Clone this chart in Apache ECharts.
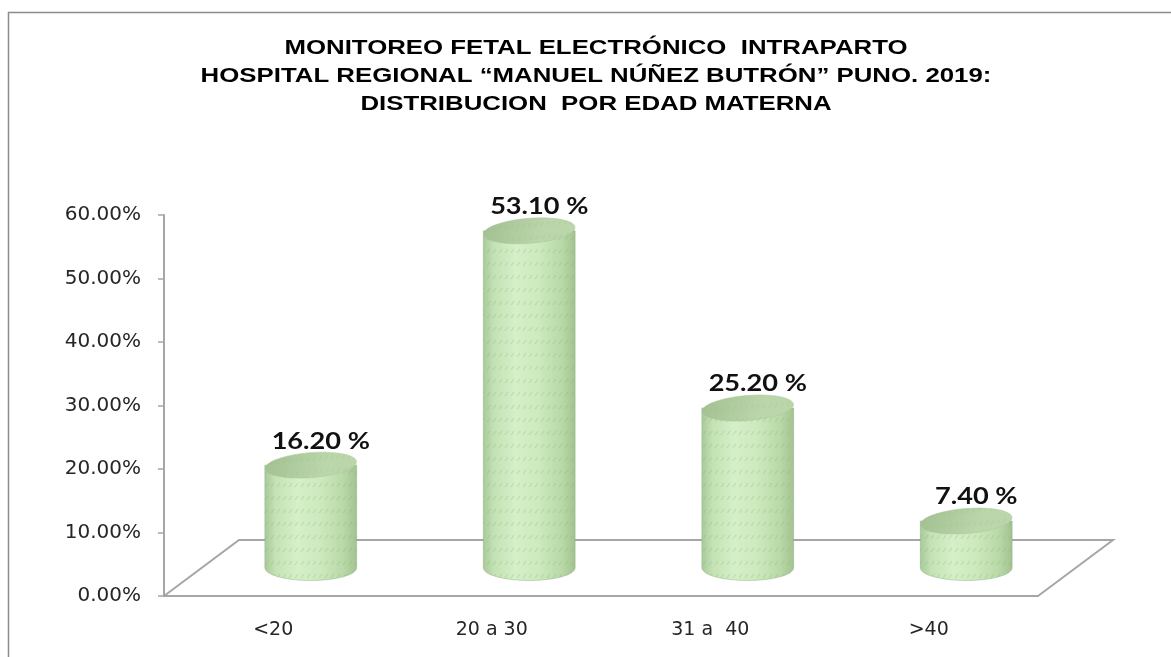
<!DOCTYPE html>
<html><head><meta charset="utf-8">
<script src="https://cdn.jsdelivr.net/npm/echarts@6/dist/echarts.min.js"></script>
<style>html,body{margin:0;padding:0;background:#fff}#c{width:1171px;height:657px}</style>
</head><body><div id="c"></div>
<script>
const categories = ['<20', '20 a 30', '31 a  40', '>40'];
const values = [16.2, 53.1, 25.2, 7.4];
const yTicks = [0, 10, 20, 30, 40, 50, 60];
const titleLines = ['MONITOREO FETAL ELECTRÓNICO  INTRAPARTO', 'HOSPITAL REGIONAL “MANUEL NÚÑEZ BUTRÓN” PUNO. 2019:', 'DISTRIBUCION  POR EDAD MATERNA'];

const DX = 75, DY = 56;
const chart = echarts.init(document.getElementById('c'), null, {renderer: 'canvas'});

// texture pattern
const pc = document.createElement('canvas');
pc.width = 6; pc.height = 13;
const g = pc.getContext('2d');
g.strokeStyle = 'rgba(125,180,105,0.35)';
g.lineWidth = 1.1;
g.beginPath(); g.moveTo(1, 6); g.lineTo(4, 2); g.stroke();

const gray = '#a6a6a6';
const axisFont = '"DejaVu Sans", Verdana, sans-serif';

chart.setOption({
  animation: false,
  graphic: [
    {type: 'polyline', shape: {points: [[8.5, 700], [8.5, 12.5], [1200, 12.5]]}, style: {stroke: '#8c8c8c', lineWidth: 1.5, fill: null}, silent: true},
    {type: 'text', x: 596, y: 34, scaleX: 1.29, style: {text: titleLines.join('\n'), textAlign: 'center', fontSize: 20, fontWeight: 'bold', lineHeight: 28, fontFamily: '"Liberation Sans", Arial, sans-serif', fill: '#000'}}
  ],
  grid: {left: 164, right: 133, top: 215, bottom: 61},
  xAxis: {
    type: 'category', data: categories,
    axisLine: {lineStyle: {color: gray, width: 2}},
    axisTick: {length: 8, lineStyle: {color: gray, width: 1.5}},
    axisLabel: {margin: 25, fontSize: 19, color: '#262626', fontFamily: axisFont}
  },
  yAxis: {
    type: 'value', min: yTicks[0], max: yTicks[yTicks.length - 1], interval: 10,
    axisLine: {show: true, lineStyle: {color: gray, width: 2}},
    axisTick: {show: true, length: 6, lineStyle: {color: gray, width: 1.5}},
    splitLine: {show: false},
    axisLabel: {margin: 23, fontSize: 20, color: '#262626', fontFamily: axisFont, formatter: v => v.toFixed(2) + '%'}
  },
  series: [
    {
      type: 'custom', z: 1, silent: true,
      data: [[0]],
      renderItem: function (params, api) {
        const cs = params.coordSys;
        const x = cs.x, y = cs.y + cs.height, w = cs.width;
        return {type: 'polyline', shape: {points: [[x, y], [x + DX, y - DY], [x + w + DX, y - DY], [x + w, y]]}, style: {stroke: gray, lineWidth: 2, fill: null}};
      }
    },
    {
      type: 'custom', z: 5, silent: true,
      data: values.map((v, i) => [i, v]),
      renderItem: function (params, api) {
        const cat = api.value(0), val = api.value(1);
        const base = api.coord([cat, 0]);
        const top = api.coord([cat, val]);
        const band = api.size([1, 0])[0];
        const rx = band * 0.42 / 2, ry = 12.5;
        const cx = base[0] + DX / 2;
        const by = base[1] - DY / 2;
        const ty = top[1] - DY / 2;
        const body = `M ${cx - rx} ${ty} L ${cx - rx} ${by} A ${rx} ${ry} 0 0 0 ${cx + rx} ${by} L ${cx + rx} ${ty} Z`;
        return {
          type: 'group',
          children: [
            {type: 'path', shape: {pathData: body}, style: {
              fill: new echarts.graphic.LinearGradient(0, 0, 1, 0, [
                {offset: 0, color: '#a9c99a'}, {offset: 0.12, color: '#c4e2b5'}, {offset: 0.35, color: '#d5efc8'},
                {offset: 0.6, color: '#cde9be'}, {offset: 0.85, color: '#b9d9a8'}, {offset: 1, color: '#a2c290'}]),
              stroke: 'rgba(140,175,125,0.6)', lineWidth: 0.8
            }},
            {type: 'path', shape: {pathData: body}, style: {fill: {image: pc, repeat: 'repeat'}, opacity: 0.9}},
            {type: 'ellipse', shape: {cx: cx, cy: ty, rx: rx, ry: ry}, rotation: 0.08, originX: cx, originY: ty, style: {
              fill: new echarts.graphic.LinearGradient(0, 0, 0.6, 1, [
                {offset: 0, color: '#a2bf92'}, {offset: 1, color: '#bad6aa'}]), stroke: '#abc89a', lineWidth: 0.5
            }},
            {type: 'ellipse', shape: {cx: cx, cy: ty, rx: rx, ry: ry}, rotation: 0.08, originX: cx, originY: ty, style: {fill: {image: pc, repeat: 'repeat'}, opacity: 0.5}},
            {type: 'text', x: cx + 10, y: ty - ry, scaleX: 1.18, style: {text: val.toFixed(2) + ' %', textAlign: 'center', textVerticalAlign: 'bottom', fontSize: 23, fontWeight: 'bold', fill: '#111', fontFamily: 'Lato, "Open Sans", sans-serif'}}
          ]
        };
      }
    }
  ]
});
</script></body></html>
